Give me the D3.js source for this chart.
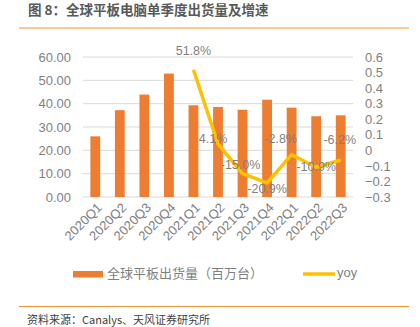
<!DOCTYPE html>
<html><head><meta charset="utf-8">
<script src="https://cdn.jsdelivr.net/npm/d3@7"></script>
<style>
html,body{margin:0;padding:0;background:#fff;}
svg{display:block;font-family:"Liberation Sans","Noto Sans CJK SC",sans-serif;}
</style></head><body>
<svg id="c" width="420" height="327"></svg>
<script>
const categories = ["2020Q1","2020Q2","2020Q3","2020Q4","2021Q1","2021Q2","2021Q3","2021Q4","2022Q1","2022Q2","2022Q3"];
const shipments = [26.0, 37.2, 43.9, 52.9, 39.3, 38.6, 37.4, 41.7, 38.3, 34.6, 35.0];
const yoy = [null, null, null, null, 0.518, 0.041, -0.150, -0.209, -0.028, -0.109, -0.062];
const yoyLabels = [null, null, null, null, "51.8%", "4.1%", "-15.0%", "-20.9%", "-2.8%", "-10.9%", "-6.2%"];
const leftTicks = [0, 10, 20, 30, 40, 50, 60];
const rightTicks = [-0.3, -0.2, -0.1, 0, 0.1, 0.2, 0.3, 0.4, 0.5, 0.6];
// label offsets (layout only), in px relative to point
const labelOffsets = [null,null,null,null,[0,-18],[-5,-4],[-2,-8],[0,7],[-11,-15],[0,0],[-1,-19]];

const svg = d3.select("#c");
const gray = "#7f7f7f";
const plot = {x0: 83, x1: 353, y0: 57, y1: 197};

const x = d3.scaleBand().domain(categories).range([plot.x0, plot.x1]).paddingInner(0.6).paddingOuter(0.3);
const yL = d3.scaleLinear().domain([0, 60]).range([plot.y1, plot.y0]);
const yR = d3.scaleLinear().domain([-0.3, 0.6]).range([plot.y1, plot.y0]);

// Title
svg.append("text").attr("x", 28).attr("y", 15).attr("font-size", 13.5).attr("font-weight", 600)
  .attr("fill", "#595959").attr("font-family", "'Noto Sans CJK SC',sans-serif").text("图 8：全球平板电脑单季度出货量及增速");
svg.append("line").attr("x1", 19).attr("x2", 409).attr("y1", 28).attr("y2", 28).attr("stroke", "#fac796").attr("stroke-width", 2);

// gridlines
svg.append("g").selectAll("line").data(leftTicks).join("line")
  .attr("x1", plot.x0).attr("x2", plot.x1).attr("y1", d => yL(d)).attr("y2", d => yL(d))
  .attr("stroke", "#d9d9d9").attr("stroke-width", 1);

// left axis
const axL = svg.append("g").attr("transform", `translate(${plot.x0},0)`)
  .call(d3.axisLeft(yL).tickValues(leftTicks).tickFormat(d3.format(".2f")).tickSize(0).tickPadding(12));
axL.select(".domain").remove();
axL.selectAll("text").attr("font-size", 13).attr("fill", gray).attr("font-family", "'Liberation Sans',sans-serif");

// right axis
const axR = svg.append("g").attr("transform", `translate(${plot.x1},0)`)
  .call(d3.axisRight(yR).tickValues(rightTicks).tickFormat(d => d === 0 ? "0" : d3.format(".1f")(d)).tickSize(0).tickPadding(12));
axR.select(".domain").remove();
axR.selectAll("text").attr("font-size", 13).attr("fill", gray);

// bars
svg.append("g").selectAll("rect").data(shipments).join("rect")
  .attr("x", (d, i) => x(categories[i])).attr("width", x.bandwidth())
  .attr("y", d => yL(d)).attr("height", d => yL(0) - yL(d)).attr("fill", "#ed7d31");

// x labels
svg.append("g").selectAll("text").data(categories).join("text")
  .attr("transform", d => `translate(${x(d) + x.bandwidth()/2 + 5},${plot.y1 + 9}) rotate(-45)`)
  .attr("text-anchor", "end").attr("dominant-baseline", "middle")
  .attr("font-size", 13).attr("fill", gray).text(d => d);

// line
const pts = yoy.map((v, i) => ({v, c: categories[i], lab: yoyLabels[i], off: labelOffsets[i]})).filter(p => p.v !== null);
const line = d3.line().x(p => x(p.c) + x.bandwidth()/2).y(p => yR(p.v));
svg.append("path").datum(pts).attr("d", line).attr("fill", "none").attr("stroke", "#ffc000")
  .attr("stroke-width", 3.5).attr("stroke-linejoin", "round");

svg.append("g").selectAll("text").data(pts).join("text")
  .attr("x", p => x(p.c) + x.bandwidth()/2 + p.off[0])
  .attr("y", p => yR(p.v) + p.off[1])
  .attr("text-anchor", "middle").attr("dominant-baseline", "middle")
  .attr("font-size", 12.5).attr("fill", gray).text(p => p.lab);

// legend
const lg = svg.append("g");
lg.append("rect").attr("x", 73).attr("y", 271).attr("width", 30).attr("height", 6.5).attr("fill", "#ed7d31");
lg.append("text").attr("x", 107).attr("y", 274).attr("dominant-baseline", "middle").attr("font-size", 13)
  .attr("fill", gray).attr("font-family", "'Noto Sans CJK SC',sans-serif").text("全球平板出货量（百万台）");
lg.append("line").attr("x1", 303).attr("x2", 335).attr("y1", 274).attr("y2", 274).attr("stroke", "#ffc000").attr("stroke-width", 3.5);
lg.append("text").attr("x", 337).attr("y", 274).attr("dominant-baseline", "middle").attr("font-size", 13)
  .attr("fill", gray).text("yoy");

// bottom line & source
svg.append("line").attr("x1", 19).attr("x2", 409).attr("y1", 306.5).attr("y2", 306.5).attr("stroke", "#f0943a").attr("stroke-width", 1);
svg.append("text").attr("x", 27).attr("y", 321).attr("dominant-baseline", "middle").attr("font-size", 11)
  .attr("fill", "#404040").attr("font-family", "'Noto Sans CJK SC',sans-serif").text("资料来源：Canalys、天风证券研究所");
</script></body></html>
